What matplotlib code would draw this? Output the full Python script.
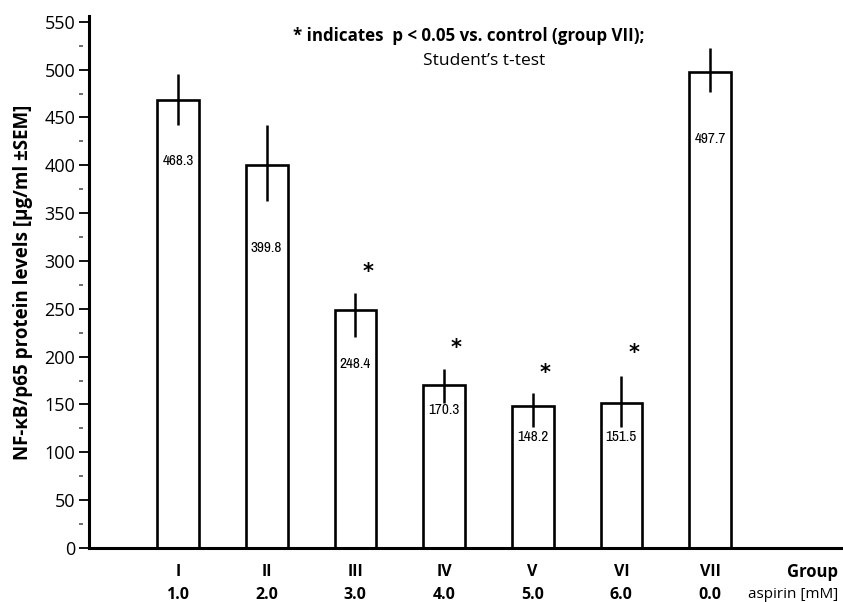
import matplotlib
matplotlib.use("Agg")
import matplotlib.pyplot as plt
import matplotlib.transforms as mtransforms
from matplotlib import font_manager
import numpy as np

groups = ["I", "II", "III", "IV", "V", "VI", "VII"]
aspirin = ["1.0", "2.0", "3.0", "4.0", "5.0", "6.0", "0.0"]
values = [468.3, 399.8, 248.4, 170.3, 148.2, 151.5, 497.7]
err_low = [26, 37, 28, 19, 22, 25, 21]
err_high = [27, 42, 18, 17, 14, 28, 25]
significant = [False, False, True, True, True, True, False]
star_y = [None, None, 288, 209, 183, 204, None]
label_y = [404, 314, 192, 144, 116, 116, 427]

plt.rcParams['font.family'] = ['Open Sans', 'DejaVu Sans']

# look for a narrow font for the value labels
narrow_family = None
for f in font_manager.fontManager.ttflist:
    if ("Narrow" in f.name or "Condensed" in f.name) and f.weight in (400, "normal", "regular"):
        narrow_family = f.name
        break
if narrow_family is None:
    for f in font_manager.fontManager.ttflist:
        if "Narrow" in f.name or "Condensed" in f.name:
            narrow_family = f.name
            break
narrow = [narrow_family, 'DejaVu Sans'] if narrow_family else ['Roboto', 'DejaVu Sans']

fig = plt.figure(figsize=(8.43, 6.02), dpi=100)
ax = fig.add_axes([89/843, 1 - 548/602, 754/843, (548-16)/602])

x = np.arange(len(groups))
ax.bar(x, values, width=0.47, color="white", edgecolor="black", linewidth=1.9, zorder=2)
ax.errorbar(x, values, yerr=[err_low, err_high], fmt="none", ecolor="black",
            elinewidth=1.8, capsize=0, zorder=3)

for xi, v, ly in zip(x, values, label_y):
    ax.text(xi, ly, f"{v:.1f}", ha="center", va="center", fontsize=11,
            family=narrow, fontweight="normal", zorder=4)

for xi, s, sy in zip(x, significant, star_y):
    if s:
        ax.text(xi + 0.14, sy, "*", ha="center", va="center", fontsize=15,
                fontweight="bold", family=['DejaVu Sans'])

ax.set_xlim(-1.004, 7.5)
ax.set_ylim(0, 556)
ax.set_yticks(np.arange(0, 551, 50))
ax.tick_params(axis="y", direction="out", length=7, width=1.3, labelsize=13, pad=3)
ax.set_xticks([])

# minor dashes (detached from axis)
minor_vals = np.arange(25, 550, 50)
trans = mtransforms.blended_transform_factory(ax.transAxes, ax.transData)
ax.plot(np.full(len(minor_vals), -8/754), minor_vals, linestyle="none", marker="_",
        markersize=3, markeredgewidth=1.2, color="#555555", transform=trans, clip_on=False)

for side in ["top", "right"]:
    ax.spines[side].set_visible(False)
ax.spines["left"].set_linewidth(2.2)
ax.spines["bottom"].set_linewidth(2.2)

ax.set_ylabel("NF-κB/p65 protein levels [µg/ml ±SEM]", fontsize=13.5, fontweight="bold",
              labelpad=8)

tb = mtransforms.blended_transform_factory(ax.transData, fig.transFigure)
for xi, g, a in zip(x, groups, aspirin):
    ax.text(xi, 1 - 572/602, g, transform=tb, ha="center", va="center",
            fontsize=11.5, fontweight="bold")
    ax.text(xi, 1 - 595/602, a, transform=tb, ha="center", va="center",
            fontsize=11.5, fontweight="bold")

fig.text(838/843, 1 - 572/602, "Group", ha="right", va="center", fontsize=12, fontweight="bold")
fig.text(838/843, 1 - 595/602, "aspirin [mM]", ha="right", va="center", fontsize=11)

fig.text(469/843, 1 - 36/602, "* indicates  p < 0.05 vs. control (group VII);",
         ha="center", va="center", fontsize=12.2, fontweight="bold")
fig.text(484/843, 1 - 61/602, "Student\u2019s t-test", ha="center", va="center", fontsize=12.5)

fig.savefig("out.png", dpi=100)
